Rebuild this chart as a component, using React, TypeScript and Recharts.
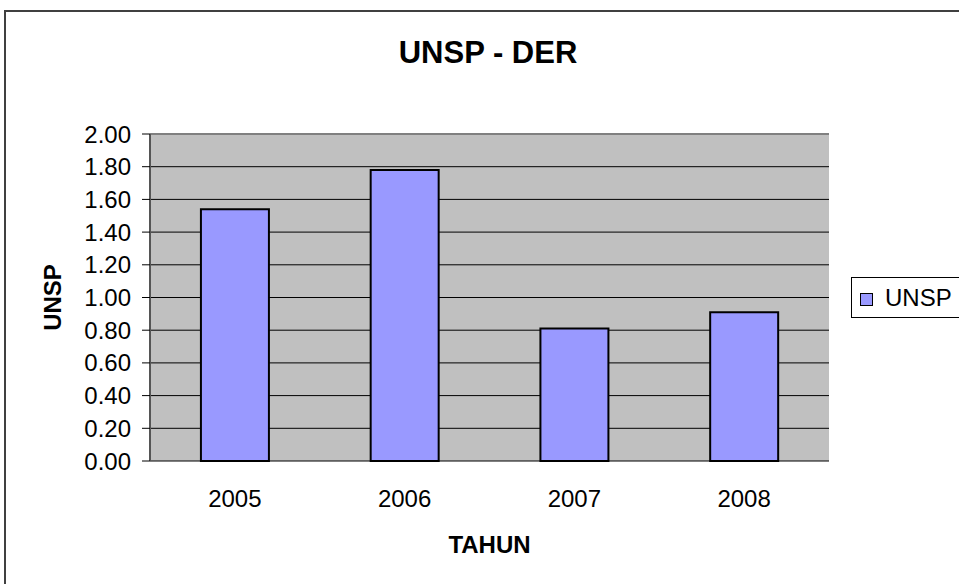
import React from "react";
import {
  BarChart,
  Bar,
  XAxis,
  YAxis,
  CartesianGrid,
  Legend,
  ReferenceLine,
} from "recharts";

const years = ["2005", "2006", "2007", "2008"];
const unspValues = [1.54, 1.78, 0.81, 0.91];
const yTicks = [0, 0.2, 0.4, 0.6, 0.8, 1.0, 1.2, 1.4, 1.6, 1.8, 2.0];
const edgeTicks = [0, 1, 2, 3, 4];
const seriesName = "UNSP";
const chartTitle = "UNSP - DER";
const xTitle = "TAHUN";
const yTitle = "UNSP";

const data = years.map((y, i) => ({ year: y, UNSP: unspValues[i] }));

const FONT = "'Liberation Sans', Arial, sans-serif";

const YLabel = (props: any) => {
  const vb = props.viewBox || {};
  const cx = vb.x + 52;
  const cy = vb.y + vb.height / 2;
  return (
    <text
      x={cx}
      y={cy}
      dy="0.355em"
      textAnchor="middle"
      transform={`rotate(-90, ${cx}, ${cy})`}
      style={{ fontFamily: FONT, fontSize: 24, fontWeight: "bold", fill: "#000" }}
    >
      {yTitle}
    </text>
  );
};

const LegendBox = () => (
  <div
    style={{
      width: 115,
      height: 39,
      border: "1px solid #000",
      background: "#fff",
      display: "flex",
      alignItems: "center",
      fontFamily: FONT,
      fontSize: 24,
      color: "#000",
      boxSizing: "content-box",
    }}
  >
    <span
      style={{
        display: "inline-block",
        width: 11,
        height: 11,
        border: "1px solid #000",
        background: "#9999ff",
        marginLeft: 8,
        marginRight: 12,
        marginTop: 4,
      }}
    />
    <span>{seriesName}</span>
  </div>
);

export default function App() {
  return (
    <div
      style={{
        position: "absolute",
        left: 0,
        top: 0,
        width: 959,
        height: 584,
        overflow: "hidden",
        background: "#fff",
      }}
    >
      <div
        style={{
          position: "absolute",
          left: 4,
          top: 10,
          width: 1000,
          height: 620,
          border: "2px solid #404040",
          boxSizing: "border-box",
        }}
      />
      <svg
        width={959}
        height={100}
        style={{ position: "absolute", left: 0, top: 0 }}
      >
        <text
          x={488}
          y={63}
          textAnchor="middle"
          style={{ fontFamily: FONT, fontSize: 31, fontWeight: "bold", fill: "#000" }}
        >
          {chartTitle}
        </text>
      </svg>
      <div style={{ position: "absolute", left: 0, top: 0 }}>
        <BarChart
          width={959}
          height={584}
          data={data}
          margin={{ top: 134, right: 13, bottom: 0, left: 0 }}
          barCategoryGap="30%"
        >
          <CartesianGrid
            xAxisId="cat"
            yAxisId="y"
            vertical={false}
            horizontal={true}
            stroke="#000"
            strokeWidth={1}
            fill="#c0c0c0"
            fillOpacity={1}
          />
          <XAxis
            xAxisId="edges"
            type="number"
            domain={[0, 4]}
            ticks={edgeTicks}
            height={0}
            tickSize={7}
            tickFormatter={() => ""}
            axisLine={{ stroke: "#000", strokeWidth: 1 }}
            tickLine={{ stroke: "#000", strokeWidth: 1 }}
          />
          <XAxis
            xAxisId="cat"
            dataKey="year"
            height={123}
            axisLine={false}
            tickLine={false}
            tickSize={7}
            tickMargin={22}
            tick={{ fontFamily: FONT, fontSize: 24, fill: "#000" }}
            label={{
              value: xTitle,
              position: "insideBottom",
              offset: 31,
              style: { fontFamily: FONT, fontSize: 24, fontWeight: "bold", fill: "#000" },
            }}
          />
          <YAxis
            yAxisId="y"
            width={150}
            domain={[0, 2]}
            ticks={yTicks}
            interval={0}
            tickFormatter={(v: number) => v.toFixed(2)}
            tickSize={8}
            tickMargin={11}
            axisLine={{ stroke: "#555", strokeWidth: 2 }}
            tickLine={{ stroke: "#000", strokeWidth: 1 }}
            tick={{ fontFamily: FONT, fontSize: 24, fill: "#000" }}
            label={<YLabel />}
          />
          <ReferenceLine
            yAxisId="y"
            xAxisId="cat"
            y={2}
            stroke="#808080"
            strokeWidth={2}
          />
          <ReferenceLine
            yAxisId="y"
            xAxisId="edges"
            x={4}
            stroke="#808080"
            strokeWidth={2}
          />
          <Bar
            xAxisId="cat"
            yAxisId="y"
            dataKey="UNSP"
            name={seriesName}
            fill="#9999ff"
            stroke="#000"
            strokeWidth={2}
            isAnimationActive={false}
          />
          <Legend
            layout="vertical"
            align="right"
            verticalAlign="middle"
            content={<LegendBox />}
            wrapperStyle={{ position: "absolute", left: 851, top: 277, width: 117 }}
          />
        </BarChart>
      </div>
    </div>
  );
}
